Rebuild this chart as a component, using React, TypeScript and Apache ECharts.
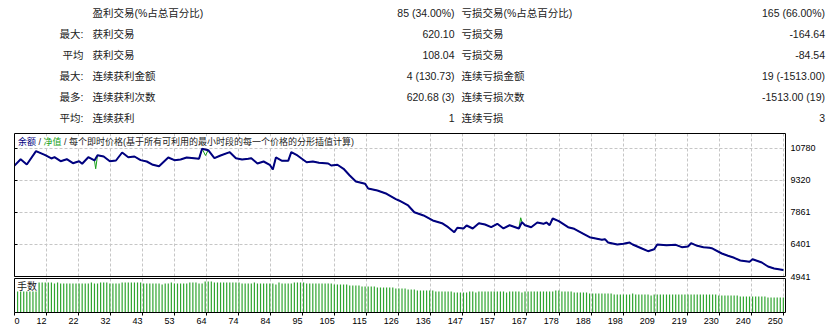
import React, { useEffect, useRef } from 'react';
import * as echarts from 'echarts';

// ---------- summary table ----------
const prefixes = ['', '最大:', '平均', '最大:', '最多:', '平均:'];
const winLabels = ['盈利交易(%占总百分比)', '获利交易', '获利交易', '连续获利金额', '连续获利次数', '连续获利'];
const winValues = ['85 (34.00%)', '620.10', '108.04', '4 (130.73)', '620.68 (3)', '1'];
const lossLabels = ['亏损交易(%占总百分比)', '亏损交易', '亏损交易', '连续亏损金额', '连续亏损次数', '连续亏损'];
const lossValues = ['165 (66.00%)', '-164.64', '-84.54', '19 (-1513.00)', '-1513.00 (19)', '3'];

// ---------- axes ----------
const xTickLabels = ['0', '12', '22', '32', '43', '53', '64', '74', '84', '95', '105', '115', '126', '136', '147', '157', '167', '178', '188', '198', '209', '219', '230', '240', '250'];
const yTickLabels = ['4941', '6401', '7861', '9320', '10780'];

const chartTitleBalance = '余额';
const chartTitleEquity = '净值';
const chartTitleRest = '每个即时价格(基于所有可利用的最小时段的每一个价格的分形插值计算)';
const lotsTitle = '手数';

// ---------- balance curve (trade number -> balance) ----------
const balanceTrade = [
  0, 2, 4, 7, 10, 12, 13, 15, 17, 19,
  21, 22, 24, 26, 27, 29, 31, 33, 35, 37,
  39, 41, 43, 45, 47, 50, 52, 54, 56, 60,
  61, 63, 65, 67, 70, 72, 74, 76, 77, 79,
  81, 83, 84, 85, 87, 89, 90, 92, 95, 97,
  99, 102, 103, 105, 107, 109, 111, 114, 115, 118,
  121, 124, 125, 128, 130, 133, 136, 139, 141, 143,
  144, 146, 147, 149, 151, 153, 155, 157, 159, 161,
  164, 165, 166, 168, 170, 172, 173, 174, 175, 177,
  180, 182, 185, 187, 191, 192, 193, 196, 198, 200,
  201, 204, 206, 208, 209, 212, 215, 217, 219, 220,
  222, 224, 226, 227, 230, 232, 234, 236, 239, 240,
  243, 245, 247, 250,
];
const balanceValue = [
  10000, 10292, 10050, 10657, 10475, 10324, 10383, 10201, 10292, 10110,
  10201, 10082, 10383, 10233, 10475, 10415, 10201, 10233, 10598, 10383,
  10415, 10250, 10187, 10037, 9973, 10370, 10247, 10279, 10370, 10311,
  10767, 10703, 10338, 10461, 10612, 10338, 10279, 10311, 10338, 10096,
  10187, 10037, 9822, 10370, 10219, 10219, 10612, 10461, 10155, 10187,
  10128, 10096, 10005, 10037, 9854, 9549, 9275, 9170, 8956, 8864,
  8714, 8467, 8408, 8180, 7874, 7724, 7496, 7373, 7190, 6962,
  7163, 7131, 7268, 7131, 7373, 7313, 7190, 7345, 7131, 7281,
  7131, 7420, 7281, 7190, 7404, 7345, 7404, 7281, 7587, 7464,
  7190, 7117, 6889, 6734, 6615, 6643, 6492, 6401, 6433, 6492,
  6401, 6218, 6095, 6186, 6401, 6369, 6385, 6278, 6310, 6460,
  6341, 6278, 6250, 6218, 5990, 5885, 5794, 5671, 5612, 5730,
  5580, 5397, 5306, 5234,
];
// equity excursions away from balance (intra-trade)
const equityDipTrade = [26.4, 62.1, 164.6];
const equityDipValue = [9854, 10461, 7620];

// ---------- lots per trade (trades 1..250) ----------
const lots = [
  0.29, 0.29, 0.29, 0.29, 0.29, 0.29, 0.30, 0.30, 0.30, 0.30,
  0.30, 0.30, 0.29, 0.30, 0.29, 0.29, 0.29, 0.29, 0.29, 0.29,
  0.29, 0.29, 0.29, 0.29, 0.30, 0.29, 0.29, 0.30, 0.30, 0.30,
  0.29, 0.29, 0.29, 0.29, 0.30, 0.30, 0.30, 0.30, 0.30, 0.30,
  0.30, 0.29, 0.29, 0.29, 0.29, 0.29, 0.29, 0.28, 0.29, 0.29,
  0.30, 0.29, 0.29, 0.29, 0.29, 0.29, 0.30, 0.30, 0.30, 0.29,
  0.29, 0.31, 0.31, 0.31, 0.30, 0.30, 0.30, 0.30, 0.30, 0.30,
  0.30, 0.30, 0.30, 0.29, 0.29, 0.29, 0.29, 0.30, 0.29, 0.29,
  0.29, 0.29, 0.29, 0.29, 0.28, 0.30, 0.29, 0.29, 0.29, 0.29,
  0.30, 0.30, 0.30, 0.30, 0.29, 0.29, 0.29, 0.29, 0.29, 0.29,
  0.29, 0.29, 0.29, 0.28, 0.28, 0.28, 0.28, 0.28, 0.27, 0.27,
  0.27, 0.27, 0.26, 0.26, 0.26, 0.26, 0.26, 0.25, 0.25, 0.25,
  0.25, 0.25, 0.25, 0.24, 0.24, 0.24, 0.24, 0.23, 0.23, 0.23,
  0.22, 0.22, 0.22, 0.22, 0.22, 0.22, 0.21, 0.21, 0.21, 0.21,
  0.21, 0.21, 0.20, 0.20, 0.20, 0.20, 0.20, 0.21, 0.21, 0.20,
  0.21, 0.21, 0.21, 0.21, 0.21, 0.21, 0.21, 0.21, 0.21, 0.20,
  0.21, 0.21, 0.21, 0.21, 0.20, 0.21, 0.21, 0.21, 0.21, 0.21,
  0.21, 0.21, 0.21, 0.21, 0.21, 0.22, 0.22, 0.21, 0.21, 0.21,
  0.21, 0.20, 0.20, 0.20, 0.20, 0.20, 0.19, 0.19, 0.19, 0.19,
  0.19, 0.19, 0.19, 0.19, 0.18, 0.18, 0.18, 0.18, 0.18, 0.18,
  0.19, 0.18, 0.18, 0.18, 0.18, 0.18, 0.17, 0.18, 0.18, 0.18,
  0.18, 0.18, 0.18, 0.18, 0.18, 0.18, 0.18, 0.18, 0.18, 0.18,
  0.18, 0.18, 0.18, 0.18, 0.18, 0.18, 0.18, 0.18, 0.17, 0.17,
  0.17, 0.17, 0.17, 0.17, 0.17, 0.16, 0.16, 0.16, 0.16, 0.16,
  0.16, 0.16, 0.16, 0.16, 0.15, 0.15, 0.15, 0.15, 0.15, 0.15,
];

// ---------- scale settings ----------
const X_MIN = 0;
const X_MAX = 250.7;
const X_STEP = 10.41;
const Y_MIN = 4941;
const Y_MAX = 11464;
const Y_STEP = 1459.75;

const FONT = "Tahoma, 'Liberation Sans', 'Noto Sans CJK SC', sans-serif";
const TEXT_COLOR = '#1a1a1a';

const MAIN_GRID = { left: 14.5, top: 133.5, width: 771, height: 143 };
const LOTS_GRID = { left: 14.5, top: 278.5, width: 771, height: 34 };

function buildOption() {
  const balanceData = balanceTrade.map((t, i) => [t, balanceValue[i]]);
  const equityData = balanceData
    .concat(equityDipTrade.map((t, i) => [t, equityDipValue[i]]))
    .sort((a, b) => a[0] - b[0]);
  const lotsData = lots.map((v, i) => [i + 1, v]);

  const gridLine = { show: true, showMinLine: false, showMaxLine: false, lineStyle: { color: '#c6c6c6', type: [3, 2], width: 1 } };

  const xFormatter = (v: number) => {
    const k = Math.round((v - X_MIN) / X_STEP);
    return Math.abs(v - X_MIN - k * X_STEP) < 0.01 && k < xTickLabels.length ? xTickLabels[k] : '';
  };
  const yFormatter = (v: number) => {
    const k = Math.round((v - Y_MIN) / Y_STEP);
    return Math.abs(v - Y_MIN - k * Y_STEP) < 0.5 && k < yTickLabels.length ? yTickLabels[k] : '';
  };

  const graphic: any[] = [];
  for (let r = 0; r < prefixes.length; r++) {
    const y = 13 + 21 * r;
    const base = { fontSize: 10.5, fontFamily: FONT, fill: TEXT_COLOR, verticalAlign: 'middle' };
    graphic.push({ type: 'text', x: 83.5, y, style: { ...base, text: prefixes[r], align: 'right' } });
    graphic.push({ type: 'text', x: 92.5, y, style: { ...base, text: winLabels[r], align: 'left' } });
    graphic.push({ type: 'text', x: 454.5, y, style: { ...base, text: winValues[r], align: 'right' } });
    graphic.push({ type: 'text', x: 461.5, y, style: { ...base, text: lossLabels[r], align: 'left' } });
    graphic.push({ type: 'text', x: 825, y, style: { ...base, text: lossValues[r], align: 'right' } });
  }
  graphic.push({
    type: 'text',
    x: 16,
    y: 142,
    z: 100,
    style: {
      text: `{a|${chartTitleBalance}} / {b|${chartTitleEquity}} / ${chartTitleRest}`,
      fontSize: 9,
      fontFamily: FONT,
      fill: '#222',
      verticalAlign: 'middle',
      align: 'left',
      backgroundColor: '#fff',
      padding: [1, 2, 1, 2],
      rich: {
        a: { fill: '#000080', fontSize: 9, fontFamily: FONT },
        b: { fill: '#16a016', fontSize: 9, fontFamily: FONT },
      },
    },
  });
  graphic.push({
    type: 'rect',
    z: 100,
    shape: { x: 15, y: 279, width: 23, height: 12.5 },
    style: { fill: '#fff' },
  });
  graphic.push({
    type: 'text',
    x: 17,
    y: 286,
    z: 101,
    style: { text: lotsTitle, fontSize: 10, fontFamily: FONT, fill: TEXT_COLOR, verticalAlign: 'middle', align: 'left' },
  });
  // panel frames drawn on top of everything
  [MAIN_GRID, LOTS_GRID].forEach((g) => {
    graphic.push({
      type: 'rect',
      z: 120,
      silent: true,
      shape: { x: g.left, y: g.top, width: g.width, height: g.height },
      style: { fill: 'none', stroke: '#000', lineWidth: 1 },
    });
  });

  return {
    animation: false,
    backgroundColor: '#fff',
    textStyle: { fontFamily: FONT },
    grid: [
      { ...MAIN_GRID, show: false },
      { ...LOTS_GRID, show: false },
    ],
    xAxis: [
      {
        type: 'value', gridIndex: 0, min: X_MIN, max: X_MAX, interval: X_STEP,
        axisLine: { show: false }, axisTick: { show: false }, axisLabel: { show: false },
        splitLine: gridLine,
      },
      {
        type: 'value', gridIndex: 1, min: X_MIN, max: X_MAX, interval: X_STEP,
        axisLine: { show: false },
        axisTick: { show: true, length: 3, lineStyle: { color: '#000' } },
        axisLabel: {
          formatter: xFormatter, fontSize: 9, color: '#000', fontFamily: FONT,
          align: 'right', alignMinLabel: 'left', margin: 4, showMaxLabel: false,
        },
        splitLine: gridLine,
      },
    ],
    yAxis: [
      {
        type: 'value', gridIndex: 0, position: 'right', min: Y_MIN, max: Y_MAX, interval: Y_STEP,
        axisLine: { show: false },
        axisTick: { show: true, length: 3, lineStyle: { color: '#000' } },
        axisLabel: { formatter: yFormatter, fontSize: 9, color: '#000', fontFamily: FONT, margin: 5, showMaxLabel: false },
        splitLine: gridLine,
      },
      { type: 'value', gridIndex: 1, min: 0, max: 0.34, show: false, splitLine: { show: false } },
    ],
    series: [
      {
        type: 'line', xAxisIndex: 0, yAxisIndex: 0, data: equityData, symbol: 'none',
        lineStyle: { color: '#18a018', width: 1 }, z: 2,
      },
      {
        type: 'line', xAxisIndex: 0, yAxisIndex: 0, data: balanceData, symbol: 'none',
        lineStyle: { color: '#000080', width: 2 }, z: 3,
      },
      {
        type: 'bar', xAxisIndex: 1, yAxisIndex: 1, data: lotsData, barWidth: 1.2,
        itemStyle: { color: '#2fa52f' }, z: 2,
      },
    ],
    graphic,
  };
}

export default function App() {
  const ref = useRef<HTMLDivElement>(null);
  useEffect(() => {
    if (!ref.current) return;
    const chart = echarts.init(ref.current, undefined, { renderer: 'svg' });
    chart.setOption(buildOption() as any);
    return () => chart.dispose();
  }, []);
  return (
    <div
      ref={ref}
      style={{ position: 'fixed', left: 0, top: 0, width: 833, height: 328, background: '#fff' }}
    />
  );
}
